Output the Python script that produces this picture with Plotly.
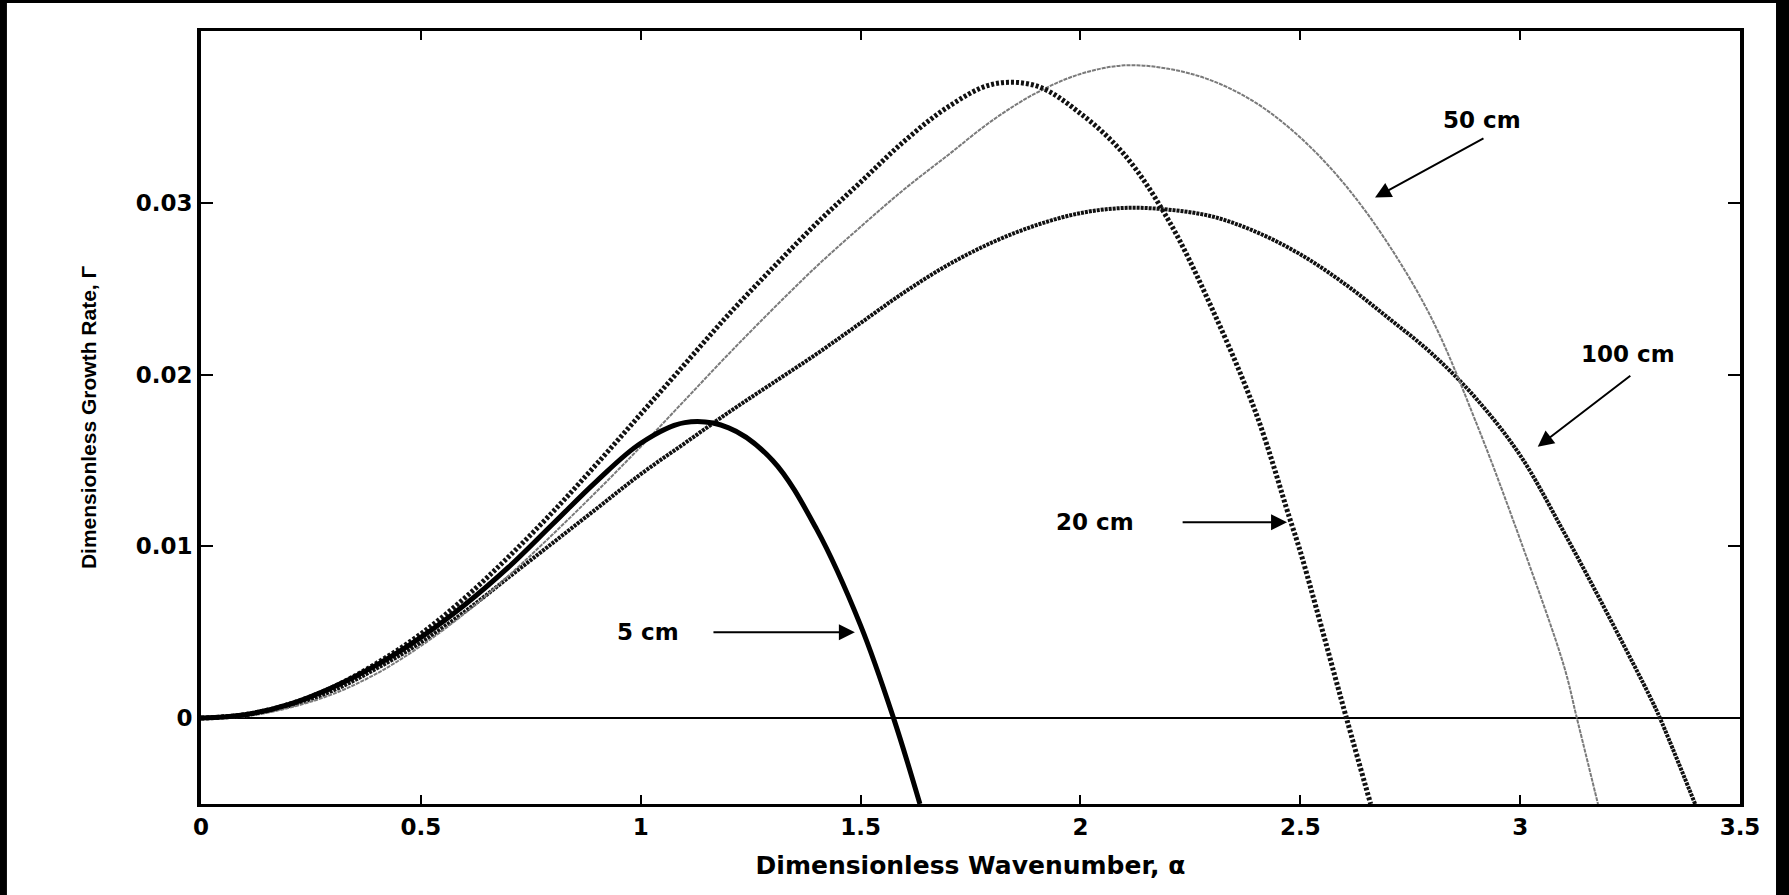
import plotly.graph_objects as go

# ---- data ----
alpha_5 = [0, 0.1, 0.2, 0.3, 0.4, 0.5, 0.6, 0.7, 0.8, 0.9, 1.0, 1.1, 1.2, 1.3, 1.4, 1.5, 1.575, 1.635]
gamma_5 = [0, 0.0002, 0.0008, 0.0018, 0.0031, 0.0047, 0.0066, 0.0088, 0.0113, 0.0138, 0.0160, 0.0172,
           0.0169, 0.0150, 0.0110, 0.0054, 0.0, -0.005]

alpha_20 = [0, 0.1, 0.2, 0.3, 0.4, 0.5, 0.6, 0.7, 0.8, 0.9, 1.0, 1.1, 1.2, 1.3, 1.4, 1.5, 1.6, 1.7, 1.8,
            1.9, 2.0, 2.1, 2.2, 2.3, 2.4, 2.475, 2.5, 2.605, 2.66]
gamma_20 = [0, 0.0002, 0.0008, 0.0018, 0.0032, 0.0049, 0.0070, 0.0094, 0.0120, 0.0148, 0.0177, 0.0206,
            0.0235, 0.0262, 0.0288, 0.0312, 0.0336, 0.0356, 0.0369, 0.0368, 0.0352, 0.0328, 0.0290,
            0.0238, 0.0177, 0.0117, 0.0097, 0.0, -0.005]

alpha_50 = [0, 0.1, 0.2, 0.3, 0.4, 0.5, 0.6, 0.7, 0.8, 0.9, 1.0, 1.1, 1.2, 1.3, 1.4, 1.5, 1.6, 1.7, 1.8,
            1.9, 2.0, 2.1, 2.2, 2.3, 2.4, 2.5, 2.6, 2.7, 2.8, 2.9, 3.0, 3.1, 3.129, 3.177]
gamma_50 = [0, 0.0001, 0.0006, 0.0014, 0.0026, 0.0042, 0.0061, 0.0083, 0.0107, 0.0132, 0.0158, 0.0185,
            0.0212, 0.0238, 0.0263, 0.0286, 0.0308, 0.0328, 0.0348, 0.0364, 0.0375, 0.0380, 0.0378,
            0.0371, 0.0358, 0.0338, 0.0311, 0.0276, 0.0232, 0.0172, 0.0104, 0.0030, 0.0, -0.005]

alpha_100 = [0, 0.1, 0.2, 0.3, 0.4, 0.5, 0.6, 0.7, 0.8, 0.9, 1.0, 1.1, 1.2, 1.3, 1.4, 1.5, 1.6, 1.7,
             1.8, 1.9, 2.0, 2.1, 2.2, 2.3, 2.4, 2.5, 2.6, 2.7, 2.8, 2.9, 3.0, 3.1, 3.2, 3.3,
             3.318, 3.398]
gamma_100 = [0, 0.0002, 0.0007, 0.0016, 0.0029, 0.0044, 0.0062, 0.0082, 0.0102, 0.0122, 0.0142, 0.0160,
             0.0178, 0.0195, 0.0212, 0.0230, 0.0248, 0.0264, 0.0277, 0.0287, 0.0294, 0.0297, 0.0296,
             0.0292, 0.0283, 0.0270, 0.0253, 0.0233, 0.0212, 0.0186, 0.0153, 0.0108, 0.0060,
             0.0010, 0.0, -0.005]

x_ticks = [0, 0.5, 1, 1.5, 2, 2.5, 3, 3.5]
x_tick_labels = ["0", "0.5", "1", "1.5", "2", "2.5", "3", "3.5"]
y_ticks = [0, 0.01, 0.02, 0.03]
y_tick_labels = ["0", "0.01", "0.02", "0.03"]

labels = ["5 cm", "20 cm", "50 cm", "100 cm"]
# label text position, arrow tail, arrow head (data coords)
label_pos = [(1.017, 0.0050), (2.033, 0.0114), (2.914, 0.0348), (3.245, 0.0212)]
arrow_tail = [(1.162, 0.0050), (2.229, 0.0114), (2.92, 0.0338), (3.254, 0.0200)]
arrow_head = [(1.487, 0.0050), (2.47, 0.0114), (2.67, 0.0303), (3.04, 0.0158)]

# ---- figure ----
fig = go.Figure()
fig.add_trace(go.Scatter(x=alpha_100, y=gamma_100, mode="lines", name="100 cm",
                         line=dict(color="#111111", width=4, dash="3px,1px", shape="spline")))
fig.add_trace(go.Scatter(x=alpha_50, y=gamma_50, mode="lines", name="50 cm",
                         line=dict(color="#7a7a7a", width=2, dash="4px,1px", shape="spline")))
fig.add_trace(go.Scatter(x=alpha_20, y=gamma_20, mode="lines", name="20 cm",
                         line=dict(color="#111111", width=5, dash="3px,2px", shape="spline")))
fig.add_trace(go.Scatter(x=alpha_5, y=gamma_5, mode="lines", name="5 cm",
                         line=dict(color="#000000", width=5, shape="spline")))

annot_font = dict(family="DejaVu Sans", size=23, color="black", weight="bold")
for lab, (tx, ty), (ax_, ay_), (hx, hy) in zip(labels, label_pos, arrow_tail, arrow_head):
    fig.add_annotation(x=tx, y=ty, xref="x", yref="y", text=lab, showarrow=False, font=annot_font)
    fig.add_annotation(x=hx, y=hy, ax=ax_, ay=ay_, xref="x", yref="y", axref="x", ayref="y",
                       text="", showarrow=True, arrowhead=2, arrowsize=1.6, arrowwidth=2,
                       arrowcolor="black", standoff=0, startstandoff=0)

# white page inside the black scan border
fig.add_shape(type="rect", xref="paper", yref="paper", x0=-0.1261, x1=1.0234, y0=-0.13, y1=1.0362,
              fillcolor="white", line=dict(width=0), layer="below")

fig.update_layout(
    width=1789, height=895,
    margin=dict(l=201, r=49, t=31, b=91),
    paper_bgcolor="black",
    plot_bgcolor="white",
    showlegend=False,
    font=dict(family="DejaVu Sans", color="black"),
)
fig.update_xaxes(
    range=[0, 3.5], tickvals=x_ticks, ticktext=x_tick_labels,
    showgrid=False, zeroline=False,
    showline=True, linecolor="black", linewidth=3, mirror="ticks",
    ticks="inside", ticklen=9, tickwidth=2, tickcolor="black",
    tickfont=dict(family="DejaVu Sans", size=23, color="black", weight="bold"),
    title=dict(text="Dimensionless Wavenumber, α",
               font=dict(family="DejaVu Sans", size=25, color="black", weight="bold"),
               standoff=18),
)
fig.update_yaxes(
    range=[-0.005, 0.04], tickvals=y_ticks, ticktext=y_tick_labels,
    showgrid=False, zeroline=True, zerolinecolor="black", zerolinewidth=2,
    showline=True, linecolor="black", linewidth=4, mirror="ticks",
    ticks="inside", ticklen=12, tickwidth=2, tickcolor="black",
    tickfont=dict(family="DejaVu Sans", size=23, color="black", weight="bold"),
    title=dict(text="Dimensionless Growth Rate, Γ",
               font=dict(family="Liberation Sans", size=21, color="black", weight="bold"),
               standoff=34),
)

fig.write_html("out.html")
